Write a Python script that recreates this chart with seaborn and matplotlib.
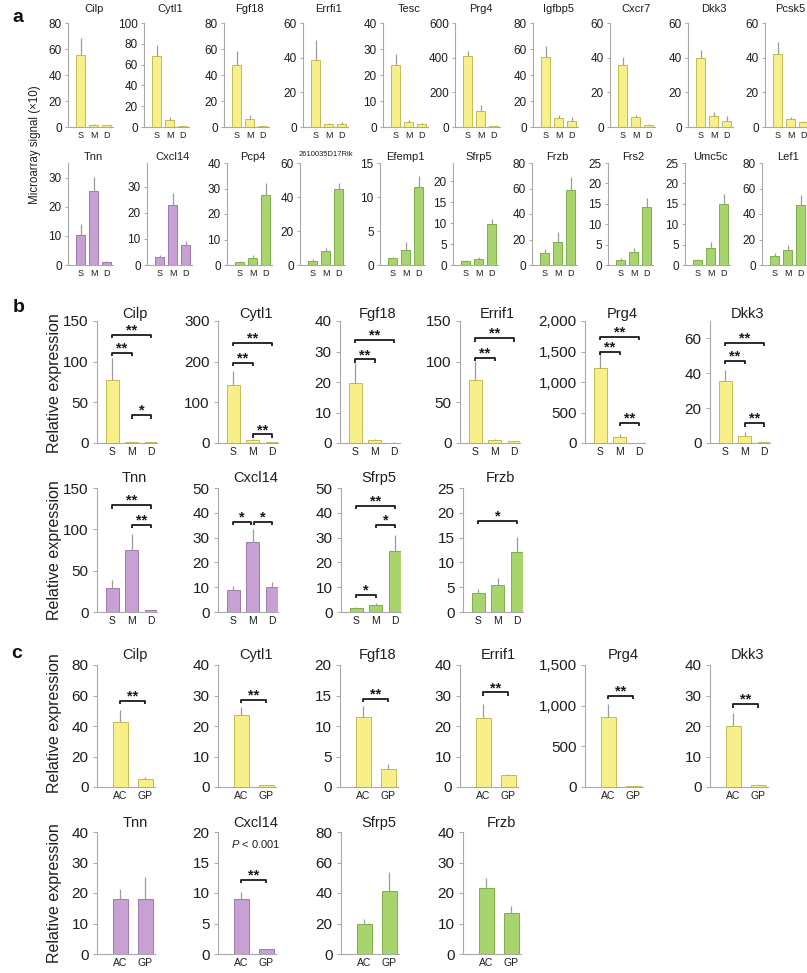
import numpy as np
import pandas as pd
import matplotlib
matplotlib.use("Agg")
import matplotlib.pyplot as plt
import matplotlib.transforms as mtransforms
from matplotlib.ticker import FuncFormatter
import seaborn as sns

sns.set_theme(style="white")
plt.rcParams["font.family"] = ["Liberation Sans", "DejaVu Sans"]
plt.rcParams["mathtext.fontset"] = "custom"
plt.rcParams["mathtext.it"] = "Liberation Sans:italic"
plt.rcParams["mathtext.rm"] = "Liberation Sans"

stages = ["S", "M", "D"]
sites = ["AC", "GP"]

# ---------------- a: microarray signal (x10), S / M / D zones ----------------
a1_genes = ["Cilp", "Cytl1", "Fgf18", "Errfi1", "Tesc", "Prg4", "Igfbp5", "Cxcr7", "Dkk3", "Pcsk5"]
a1_S = [55.5, 67.9, 48.0, 38.4, 24.0, 409, 54.0, 36.0, 40.0, 42.0]
a1_M = [1.8, 7.2, 6.5, 1.8, 2.0, 92, 7.3, 5.5, 6.2, 4.9]
a1_D = [1.2, 1.0, 0.5, 2.0, 1.2, 4, 4.7, 1.4, 3.5, 2.7]
a1_S_err = [12.9, 10.8, 10.4, 11.8, 4.2, 29, 8.3, 4.5, 4.2, 7.3]
a1_M_err = [0.4, 2.6, 2.6, 0.6, 0.6, 35, 1.8, 1.3, 2.6, 0.9]
a1_D_err = [0.3, 0.3, 0.2, 0.8, 0.3, 2, 3.1, 0.5, 2.7, 0.8]
a1_ytop = [80, 100, 80, 60, 40, 600, 80, 60, 60, 60]
a1_ystep = [20, 20, 20, 20, 10, 200, 20, 20, 20, 20]
a1_kind = ["S"] * 10

a2_genes = ["Tnn", "Cxcl14", "Pcp4", "2610035D17Rik", "Efemp1", "Sfrp5", "Frzb", "Frs2", "Umc5c", "Lef1"]
a2_S = [10.4, 2.9, 1.3, 2.4, 1.0, 1.0, 9.2, 1.2, 1.2, 7.1]
a2_M = [25.4, 23.1, 2.9, 8.3, 2.2, 1.4, 18.4, 3.3, 4.1, 11.8]
a2_D = [1.1, 7.8, 27.5, 44.9, 11.4, 9.8, 59.0, 14.2, 15.0, 46.7]
a2_S_err = [3.7, 0.8, 0.4, 1.1, 0.2, 0.1, 3.1, 0.4, 0.2, 2.1]
a2_M_err = [4.8, 4.3, 1.0, 1.5, 1.2, 0.4, 7.8, 0.8, 1.6, 3.9]
a2_D_err = [0.3, 1.3, 4.6, 3.3, 1.7, 1.2, 9.8, 2.2, 2.5, 8.3]
a2_ytop = [35, 39, 40, 60, 15, 24.4, 80, 25, 25, 80]
a2_ystep = [10, 10, 10, 20, 5, 5, 20, 5, 5, 20]
a2_kind = ["M", "M", "D", "D", "D", "D", "D", "D", "D", "D"]

# ---------------- b: qPCR relative expression, S / M / D zones ----------------
b1_genes = ["Cilp", "Cytl1", "Fgf18", "Errif1", "Prg4", "Dkk3"]
b1_S = [77.5, 142.6, 19.8, 77.5, 1231, 35.4]
b1_M = [1.2, 6.5, 1.1, 3.3, 93, 4.2]
b1_D = [0.8, 1.6, 0.1, 2.0, 5, 0.4]
b1_S_err = [26.5, 35.1, 6.5, 23.2, 274, 6.6]
b1_M_err = [0.3, 3.3, 0.2, 1.2, 55, 2.2]
b1_D_err = [0.2, 0.3, 0.1, 0.4, 2, 0.2]
b1_ytop = [150, 300, 40, 150, 2000, 70]
b1_ystep = [50, 100, 10, 50, 500, 20]
b1_kind = ["S"] * 6

b2_genes = ["Tnn", "Cxcl14", "Sfrp5", "Frzb"]
b2_S = [29.2, 8.8, 1.6, 3.8]
b2_M = [75.0, 28.4, 3.0, 5.4]
b2_D = [2.0, 10.1, 24.7, 12.0]
b2_S_err = [9.3, 1.6, 0.4, 0.8]
b2_M_err = [19.4, 5.0, 0.6, 1.4]
b2_D_err = [0.4, 2.1, 6.4, 3.1]
b2_ytop = [150, 50, 50, 25]
b2_ystep = [50, 10, 10, 5]
b2_kind = ["M", "M", "D", "D"]

# significance brackets: (row, gene, from, to, height, stars)
b_brackets = [
    ("top", "Cilp", 0, 1, 111, "**"), ("top", "Cilp", 0, 2, 133, "**"), ("top", "Cilp", 1, 2, 34, "*"),
    ("top", "Cytl1", 0, 1, 196, "**"), ("top", "Cytl1", 0, 2, 246, "**"), ("top", "Cytl1", 1, 2, 21, "**"),
    ("top", "Fgf18", 0, 1, 27.4, "**"), ("top", "Fgf18", 0, 2, 33.8, "**"),
    ("top", "Errif1", 0, 1, 105, "**"), ("top", "Errif1", 0, 2, 128.7, "**"),
    ("top", "Prg4", 0, 1, 1497, "**"), ("top", "Prg4", 0, 2, 1733, "**"), ("top", "Prg4", 1, 2, 323, "**"),
    ("top", "Dkk3", 0, 1, 47.1, "**"), ("top", "Dkk3", 0, 2, 57.3, "**"), ("top", "Dkk3", 1, 2, 11.3, "**"),
    ("bot", "Tnn", 0, 2, 129, "**"), ("bot", "Tnn", 1, 2, 105, "**"),
    ("bot", "Cxcl14", 0, 0.93, 36.4, "*"), ("bot", "Cxcl14", 1.07, 2, 36.4, "*"),
    ("bot", "Sfrp5", 0, 1, 6.9, "*"), ("bot", "Sfrp5", 1, 2, 35, "*"), ("bot", "Sfrp5", 0, 2, 42.9, "**"),
    ("bot", "Frzb", 0, 2, 18.4, "*"),
]

# ---------------- c: qPCR relative expression, AC vs GP ----------------
c1_genes = ["Cilp", "Cytl1", "Fgf18", "Errif1", "Prg4", "Dkk3"]
c1_AC = [42.8, 23.6, 11.5, 22.5, 863, 19.9]
c1_GP = [5.5, 0.5, 3.0, 3.8, 8, 0.5]
c1_AC_err = [7.6, 2.7, 1.7, 4.7, 152, 4.2]
c1_GP_err = [1.1, 0.1, 0.8, 0.6, 2, 0.3]
c1_ytop = [80, 40, 20, 40, 1500, 40]
c1_ystep = [20, 10, 5, 10, 500, 10]
c1_kind = ["S"] * 6

c2_genes = ["Tnn", "Cxcl14", "Sfrp5", "Frzb"]
c2_AC = [18.1, 9.0, 19.7, 21.5]
c2_GP = [18.1, 0.8, 41.0, 13.4]
c2_AC_err = [3.2, 1.2, 3.3, 3.3]
c2_GP_err = [7.1, 0.1, 12.7, 2.4]
c2_ytop = [40, 20, 80, 40]
c2_ystep = [10, 5, 20, 10]
c2_kind = ["M", "M", "D", "D"]

c_brackets = [
    ("top", "Cilp", 0, 1, 56.4, "**"), ("top", "Cytl1", 0, 1, 28.5, "**"),
    ("top", "Fgf18", 0, 1, 14.4, "**"), ("top", "Errif1", 0, 1, 31, "**"),
    ("top", "Prg4", 0, 1, 1119, "**"), ("top", "Dkk3", 0, 1, 27.1, "**"),
    ("bot", "Cxcl14", 0, 1, 12.1, "**"),
]

FILL = {"S": "#f7f08a", "M": "#c7a1d3", "D": "#a7d46d"}
EDGE = {"S": "#c4bb55", "M": "#9c7aaa", "D": "#80ae4a"}
ERR = "#9c9c9c"
SPINE = "#a9a9a9"
TEXT = "#1e1e1e"

W, H = 807, 973
fig = plt.figure(figsize=(W / 100, H / 100), dpi=100)
fig.patch.set_facecolor("white")


def place(left, top, width, bottom):
    return fig.add_axes([left / W, 1 - bottom / H, width / W, (bottom - top) / H])


def draw_chart(ax, labels, means, errs, kind, bar_w, ytop, ystep, xlim,
               tick_fs, lab_fs, tick_len, tick_pad):
    df = pd.DataFrame({"group": labels, "value": means})
    sns.barplot(data=df, x="group", y="value", ax=ax, color=FILL[kind],
                edgecolor=EDGE[kind], linewidth=0.7, width=bar_w,
                saturation=1, errorbar=None, zorder=2)
    ax.errorbar(np.arange(len(means)), means,
                yerr=[np.zeros(len(errs)), errs], fmt="none",
                ecolor=ERR, elinewidth=0.9, capsize=0, zorder=3)
    ax.set_xlim(*xlim)
    ax.set_ylim(0, ytop)
    ax.set_yticks(np.arange(0, ytop + 1e-9, ystep))
    ax.yaxis.set_major_formatter(FuncFormatter(lambda v, p: f"{v:,.0f}"))
    ax.set_xlabel("")
    ax.set_ylabel("")
    for s in ("top", "right"):
        ax.spines[s].set_visible(False)
    for s in ("left", "bottom"):
        ax.spines[s].set_color(SPINE)
        ax.spines[s].set_linewidth(0.8)
    ax.tick_params(axis="y", length=tick_len, width=0.7, color=SPINE,
                   labelsize=tick_fs, pad=tick_pad, labelcolor=TEXT, left=True)
    ax.tick_params(axis="x", length=0, labelsize=lab_fs, pad=3, labelcolor=TEXT)
    ax.set_facecolor("none")
    ax.grid(False)


def add_title(ax, text, xmid, base_px, top_px, baseline_px, fs):
    trans = mtransforms.blended_transform_factory(ax.transData, ax.transAxes)
    y = (base_px - baseline_px) / (base_px - top_px)
    ax.text(xmid, y, text, transform=trans, ha="center", va="baseline",
            fontsize=fs, color=TEXT, clip_on=False)


def add_bracket(ax, x0, x1, y, stars, drop_px=3.2):
    ymin, ymax = ax.get_ylim()
    h_px = ax.get_window_extent().height
    drop = drop_px * (ymax - ymin) / h_px
    ax.plot([x0, x0, x1, x1], [y - drop, y, y, y - drop], color="#1a1a1a",
            lw=1.3, solid_capstyle="butt", clip_on=False, zorder=4)
    ax.text((x0 + x1) / 2, y + 0.4 * (ymax - ymin) / h_px, stars, ha="center",
            va="baseline", fontsize=10.5, fontweight="bold", color="#1a1a1a",
            clip_on=False, zorder=4)


# ---- panel a ----
a1_left = [68, 144, 224, 303, 383, 455, 533, 610, 688, 765]
a2_left = [68, 147, 227, 300, 380, 453, 532, 608, 685, 762]
a_rows = [
    (a1_genes, a1_S, a1_M, a1_D, a1_S_err, a1_M_err, a1_D_err, a1_ytop, a1_ystep,
     a1_kind, a1_left, 23, 127, 12),
    (a2_genes, a2_S, a2_M, a2_D, a2_S_err, a2_M_err, a2_D_err, a2_ytop, a2_ystep,
     a2_kind, a2_left, 163, 265, 160),
]
for (genes, sv, mv, dv, se, me, de, ytops, ysteps, kinds, lefts,
     top, base, title_y) in a_rows:
    for i, g in enumerate(genes):
        ax = place(lefts[i], top, 45, base)
        draw_chart(ax, stages, [sv[i], mv[i], dv[i]], [se[i], me[i], de[i]],
                   kinds[i], 0.72, ytops[i], ysteps[i], (-1.0, 2.5),
                   8.5, 6.5, 2.0, 2.5)
        small = len(g) > 8
        add_title(ax, g, 1.0, base, top, title_y - (4 if small else 0),
                  5.5 if small else 8.0)

fig.text(35 / W, 1 - 145 / H, "Microarray signal (\u00d710)", rotation=90,
         ha="center", va="center", fontsize=8.3, color=TEXT)

# ---- panel b ----
bc_left_top = [97, 218, 340, 460, 585, 710]
bc_left_bot = [97, 218, 341, 463]

b_axes = {}
for i, g in enumerate(b1_genes):
    ax = place(bc_left_top[i], 321, 60, 443)
    draw_chart(ax, stages, [b1_S[i], b1_M[i], b1_D[i]],
               [b1_S_err[i], b1_M_err[i], b1_D_err[i]], b1_kind[i], 0.67,
               b1_ytop[i], b1_ystep[i], (-0.77, 2.3), 11, 7.5, 3.0, 3.0)
    add_title(ax, g, 1.15, 443, 321, 318, 10.5)
    b_axes[("top", g)] = ax
for i, g in enumerate(b2_genes):
    ax = place(bc_left_bot[i], 488, 60, 612)
    draw_chart(ax, stages, [b2_S[i], b2_M[i], b2_D[i]],
               [b2_S_err[i], b2_M_err[i], b2_D_err[i]], b2_kind[i], 0.67,
               b2_ytop[i], b2_ystep[i], (-0.77, 2.3), 11, 7.5, 3.0, 3.0)
    add_title(ax, g, 1.15, 612, 488, 482, 10.5)
    b_axes[("bot", g)] = ax

for row, g, x0, x1, y, s in b_brackets:
    add_bracket(b_axes[(row, g)], x0, x1, y, s)

# ---- panel c ----
c_axes = {}
for i, g in enumerate(c1_genes):
    ax = place(bc_left_top[i], 665, 58, 787)
    draw_chart(ax, sites, [c1_AC[i], c1_GP[i]], [c1_AC_err[i], c1_GP_err[i]],
               c1_kind[i], 0.6, c1_ytop[i], c1_ystep[i], (-0.92, 1.4),
               11, 7.5, 3.0, 3.0)
    add_title(ax, g, 0.6, 787, 665, 659, 10.5)
    c_axes[("top", g)] = ax
for i, g in enumerate(c2_genes):
    ax = place(bc_left_bot[i], 832, 58, 954)
    draw_chart(ax, sites, [c2_AC[i], c2_GP[i]], [c2_AC_err[i], c2_GP_err[i]],
               c2_kind[i], 0.6, c2_ytop[i], c2_ystep[i], (-0.92, 1.4),
               11, 7.5, 3.0, 3.0)
    add_title(ax, g, 0.6, 954, 832, 827, 10.5)
    c_axes[("bot", g)] = ax

for row, g, x0, x1, y, s in c_brackets:
    add_bracket(c_axes[(row, g)], x0, x1, y, s)

c_axes[("bot", "Cxcl14")].text(0.6, 18.0, r"$\it{P}$ < 0.001", ha="center",
                               va="center", fontsize=8, color=TEXT)

# y-axis labels
for yc in (383, 550, 723, 893):
    fig.text(55 / W, 1 - yc / H, "Relative expression", rotation=90,
             ha="center", va="center", fontsize=11.5, color=TEXT)

# panel letters
for letter, x, y in (("a", 18, 18), ("b", 19, 307), ("c", 17, 654)):
    fig.text(x / W, 1 - y / H, letter, ha="center", va="center",
             fontsize=14, fontweight="bold", color="#111111")

fig.savefig("out.png", dpi=100, facecolor="white")
